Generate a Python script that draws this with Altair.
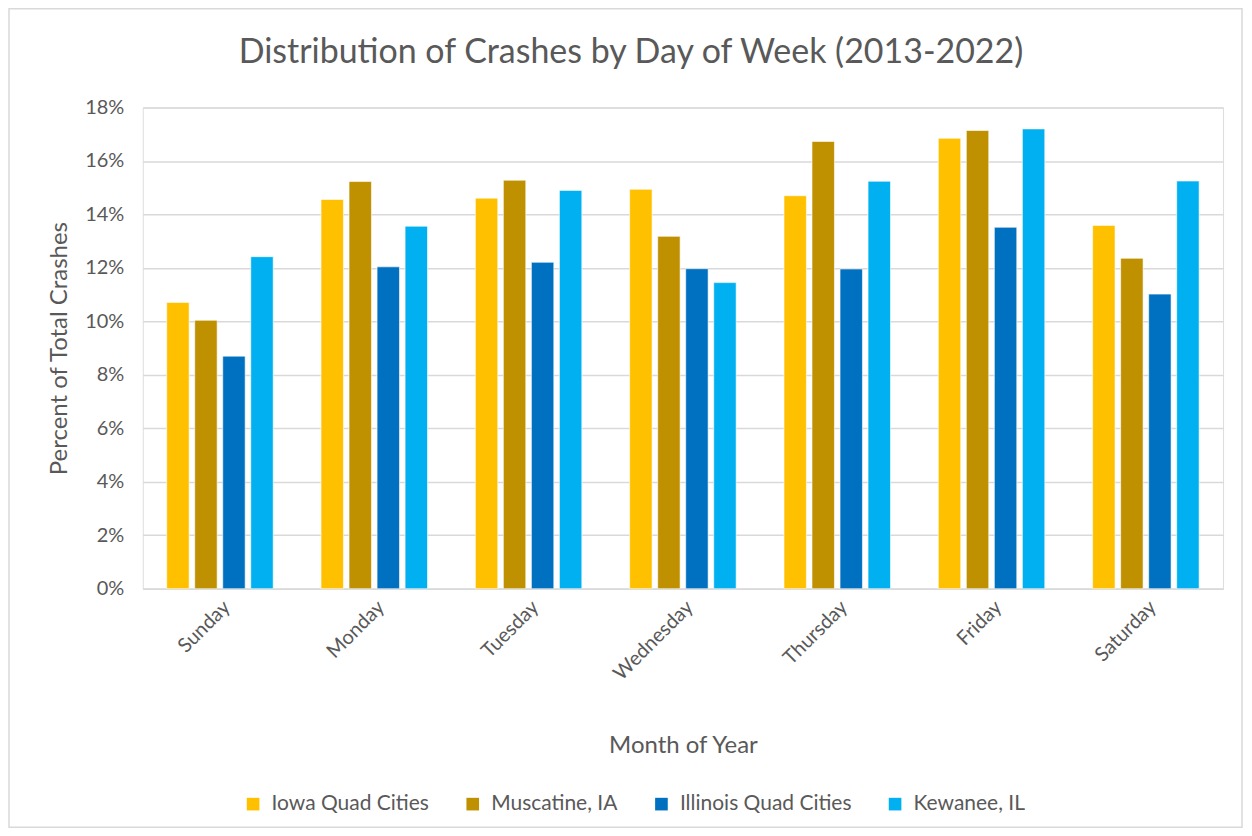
import altair as alt
import pandas as pd

days = ["Sunday", "Monday", "Tuesday", "Wednesday", "Thursday", "Friday", "Saturday"]
series = ["Iowa Quad Cities", "Muscatine, IA", "Illinois Quad Cities", "Kewanee, IL"]
colors = ["#FFC000", "#BF9000", "#0070C0", "#00B0F0"]
title_text = "Distribution of Crashes by Day of Week (2013-2022)"

iowa_qc = [10.71, 14.56, 14.61, 14.94, 14.70, 16.85, 13.59]
muscatine = [10.04, 15.23, 15.28, 13.18, 16.73, 17.14, 12.36]
illinois_qc = [8.70, 12.04, 12.21, 11.97, 11.96, 13.52, 11.02]
kewanee = [12.42, 13.56, 14.90, 11.45, 15.24, 17.20, 15.25]

rows = []
for s, vals in zip(series, [iowa_qc, muscatine, illinois_qc, kewanee]):
    for d, v in zip(days, vals):
        rows.append({"day": d, "series": s, "pct": v / 100.0})
df = pd.DataFrame(rows)

FONT = "Lato"
GREY = "#595959"
W, H = 1082, 482

bars = alt.Chart(df).mark_bar(stroke="white", strokeWidth=0.6).encode(
    x=alt.X("day:N", sort=days,
            scale=alt.Scale(paddingInner=0.31, paddingOuter=0.155),
            axis=alt.Axis(title="Month of Year", labelAngle=-45, labelFontSize=20,
                          labelColor=GREY, labelFont=FONT, titleFont=FONT,
                          titleFontSize=24, titleColor=GREY, titleFontWeight="normal",
                          titlePadding=50, ticks=False, domainColor="#d9d9d9",
                          domainWidth=1.5, labelPadding=8, grid=False)),
    xOffset=alt.XOffset("series:N", sort=series, scale=alt.Scale(paddingInner=0.2)),
    y=alt.Y("pct:Q",
            scale=alt.Scale(domain=[0, 0.18]),
            axis=alt.Axis(title="Percent of Total Crashes", format=".0%",
                          values=[0, 0.02, 0.04, 0.06, 0.08, 0.10, 0.12, 0.14, 0.16, 0.18],
                          labelFontSize=20, labelColor=GREY, labelFont=FONT,
                          titleFont=FONT, titleFontSize=24, titleColor=GREY,
                          titleFontWeight="normal", titlePadding=13,
                          domain=False, ticks=False, labelPadding=19,
                          gridColor="#d9d9d9", gridWidth=1.5)),
    color=alt.Color("series:N", sort=series,
                    scale=alt.Scale(domain=series, range=colors),
                    legend=alt.Legend(title=None, orient="none", direction="horizontal",
                                      legendX=100, legendY=687, symbolType="square",
                                      symbolSize=160, symbolStrokeWidth=0,
                                      labelFontSize=21, labelColor=GREY, labelFont=FONT,
                                      labelLimit=400, columnPadding=33, labelOffset=8)),
)

border = alt.Chart(pd.DataFrame({"k": [0]})).mark_rect(
    fill=None, stroke="#d9d9d9", strokeWidth=1.5, clip=False
).encode(x=alt.value(-134), x2=alt.value(W + 19), y=alt.value(-99), y2=alt.value(H + 239))

title = alt.Chart(pd.DataFrame({"t": [title_text]})).mark_text(
    font=FONT, fontSize=34, color=GREY, align="center", baseline="middle"
).encode(text="t:N", x=alt.value(489), y=alt.value(-55))

chart = alt.layer(border, bars, title).properties(
    width=W, height=H,
    autosize=alt.AutoSizeParams(type="none"),
    padding={"left": 135, "top": 99, "right": 21, "bottom": 240},
).configure_view(stroke=None).configure(background="white")

chart.save("out.html", embed_options={"renderer": "svg", "actions": False})
